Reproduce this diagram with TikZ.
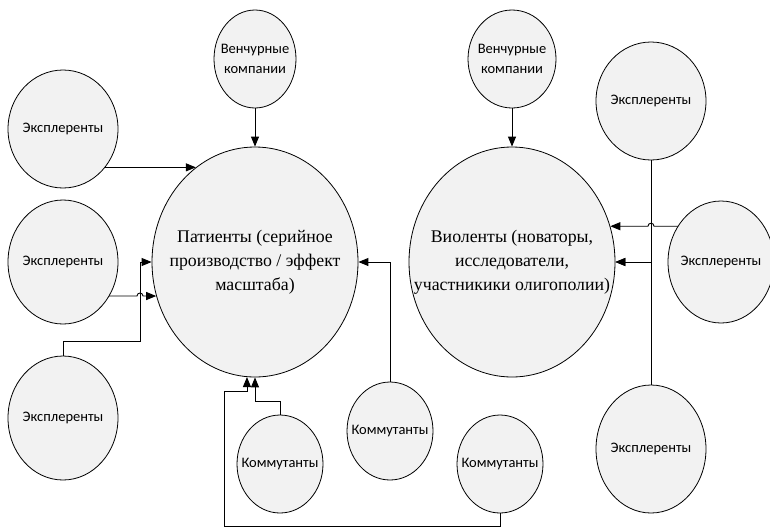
\documentclass[tikz,border=0pt]{standalone}
\usepackage{fontspec}
\setmainfont{Liberation Serif}
\newfontfamily\actorsans{Carlito}
\usetikzlibrary{arrows.meta,backgrounds,shapes.geometric}

\definecolor{cellfill}{HTML}{F2F2F2}

\tikzset{
  actor/.style={ellipse, draw=black, line width=0.8pt, fill=cellfill,
    inner sep=-30pt, align=center,
    font=\actorsans\fontsize{14.5}{20}\selectfont},
  group/.style={ellipse, draw=black, line width=0.8pt, fill=cellfill,
    inner sep=-30pt, align=center,
    font=\fontsize{17.8}{24}\selectfont},
  conn/.style={line width=0.9pt, -{Triangle[length=10pt,width=8pt]}},
}

\begin{document}
\begin{tikzpicture}[x=1pt,y=-1pt]
\useasboundingbox (0,0) rectangle (770,528);

% ---- patients cluster ----
\node[group, minimum width=206pt, minimum height=230pt] (P) at (255,262)
  {Патиенты (серийное\\производство / эффект\\масштаба)};
\node[actor, minimum width=82pt, minimum height=98pt] (v1) at (255,59)
  {Венчурные\\компании};
\node[actor, minimum width=110pt, minimum height=118pt] (e1) at (63,129) {Эксплеренты};
\node[actor, minimum width=110pt, minimum height=124pt] (e2) at (63,262) {Эксплеренты};
\node[actor, minimum width=110pt, minimum height=124pt] (e3) at (63,418) {Эксплеренты};
\node[actor, minimum width=86pt, minimum height=98pt] (k1) at (280,464) {Коммутанты};
\node[actor, minimum width=86pt, minimum height=98pt] (k2) at (390,431) {Коммутанты};
\node[actor, minimum width=86pt, minimum height=98pt] (k3) at (500,464) {Коммутанты};

% ---- violents cluster ----
\node[group, minimum width=206pt, minimum height=230pt] (V) at (512,262)
  {Виоленты (новаторы,\\исследователи,\\участникики олигополии)};
\node[actor, minimum width=88pt, minimum height=98pt] (v2) at (512,59)
  {Венчурные\\компании};
\node[actor, minimum width=110pt, minimum height=118pt] (et) at (651,101) {Эксплеренты};
\node[actor, minimum width=106pt, minimum height=122pt] (em) at (721,262) {Эксплеренты};
\node[actor, minimum width=110pt, minimum height=128pt] (eb) at (651,449) {Эксплеренты};

% bend points of the routed connectors
\coordinate (riser) at (140,0);
\coordinate (loop) at (224,391);

\begin{pgfonlayer}{background}
  % into the patients
  \draw[conn] (v1.south) -- (P.north);
  \draw[conn] (e1.center |- P.122.1) -- (P.122.1);
  \draw[conn] (e2.center |- P.199.65) -- ([xshift=-3pt]riser |- P.199.65)
    .. controls +(0,-4) and +(0,-4) .. ++(6,0) -- (P.199.65);
  \draw[conn] (e3.north) -- ++(0,-14) -| (riser |- P.west) -- (P.west);
  \draw[conn] (k2.north) |- (P.east);
  \draw[conn] (k1.north) -- ++(0,-13) -| (P.south);
  \draw[conn] (k3.south) -- ++(0,13) -| (loop) -| (P.266.5);

  % into the violents
  \draw[conn] (v2.south) -- (V.north);
  \draw[conn] (em.center |- V.20.2) -- ([xshift=3pt]et.south |- V.20.2)
    .. controls +(0,-4) and +(0,-4) .. ++(-6,0) -- (V.20.2);
  \draw[conn] (et.south) |- (V.east);
  \draw[conn] (eb.north) |- (V.east);
\end{pgfonlayer}
\end{tikzpicture}
\end{document}
